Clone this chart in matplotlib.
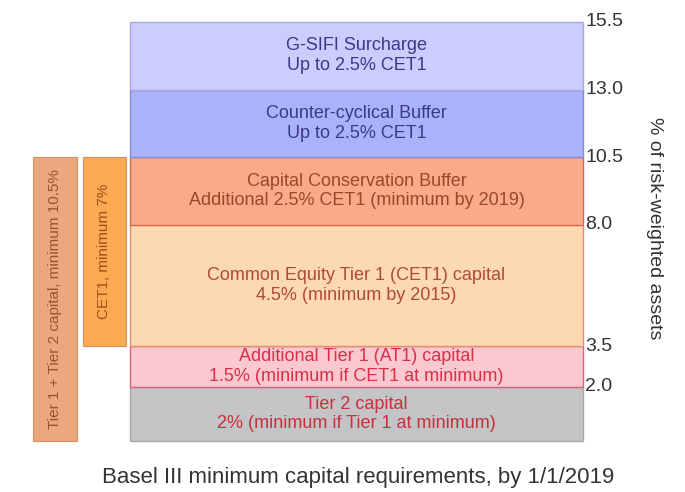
import matplotlib.pyplot as plt
from matplotlib.patches import Rectangle

plt.rcParams['font.family'] = ['Liberation Sans', 'DejaVu Sans']

# layers of the stack, bottom to top (% of risk-weighted assets)
layer_names = [
	"Tier 2 capital\n2% (minimum if Tier 1 at minimum)",
	"Additional Tier 1 (AT1) capital\n1.5% (minimum if CET1 at minimum)",
	"Common Equity Tier 1 (CET1) capital\n4.5% (minimum by 2015)",
	"Capital Conservation Buffer\nAdditional 2.5% CET1 (minimum by 2019)",
	"Counter-cyclical Buffer\nUp to 2.5% CET1",
	"G-SIFI Surcharge\nUp to 2.5% CET1",
]
layer_sizes = [2.0, 1.5, 4.5, 2.5, 2.5, 2.5]
layer_colors = ["#c4c4c6", "#fbc8d0", "#fdd9b2", "#f9aa8a", "#aab2fa", "#ccccfe"]
layer_edges = ["#a8a8aa", "#e0607a", "#e09070", "#d06a50", "#8a8ad0", "#a8a8e0"]
text_colors = ["#c8303c", "#d83048", "#b04a38", "#9a4828", "#3a3a8c", "#3a3a8c"]

# side brackets: (label, bottom, top)
side_labels = ["Tier 1 + Tier 2 capital, minimum 10.5%", "CET1, minimum 7%"]
side_bottoms = [0.0, 3.5]
side_tops = [10.5, 10.5]
side_colors = ["#eaa87c", "#faaa50"]
side_text = ["#a05030", "#a84a20"]

tick_values = [2.0, 3.5, 8.0, 10.5, 13.0, 15.5]

fig = plt.figure(figsize=(6.85, 4.92), dpi=100)
ax = fig.add_axes([130 / 685, 51 / 492, 453 / 685, 419 / 492])
ax.set_xlim(0, 1)
ax.set_ylim(0, 15.5)

bottom = 0.0
for name, size, fc, ec, tc in zip(layer_names, layer_sizes, layer_colors, layer_edges, text_colors):
	ax.add_patch(Rectangle((0, bottom), 1, size, facecolor=fc, edgecolor=ec,
		linewidth=1.0, clip_on=False))
	ax.text(0.5, bottom + size / 2, name, ha="center", va="center", color=tc,
		fontsize=13, linespacing=1.2)
	bottom += size

side_x = [-0.214, -0.104]
side_w = [0.097, 0.095]
for lab, b, t, x, w, fc, tc in zip(side_labels, side_bottoms, side_tops, side_x, side_w, side_colors, side_text):
	ax.add_patch(Rectangle((x, b), w, t - b, facecolor=fc, edgecolor="#d89060",
		linewidth=0.8, clip_on=False))
	ax.text(x + w / 2, (b + t) / 2, lab, rotation=90, ha="center", va="center",
		color=tc, fontsize=11, clip_on=False)

for v in tick_values:
	ax.text(1.005, v, f"{v:.1f}", ha="left", va="center", fontsize=14, color="#333333")

fig.text(655 / 685, 1 - 228 / 492, "% of risk-weighted assets", rotation=270,
	ha="center", va="center", fontsize=14, color="#333333")

fig.text(358 / 685, 1 - 477 / 492, "Basel III minimum capital requirements, by 1/1/2019",
	ha="center", va="center", fontsize=16, color="#333333")

ax.set_axis_off()
fig.savefig("out.png", dpi=100)
